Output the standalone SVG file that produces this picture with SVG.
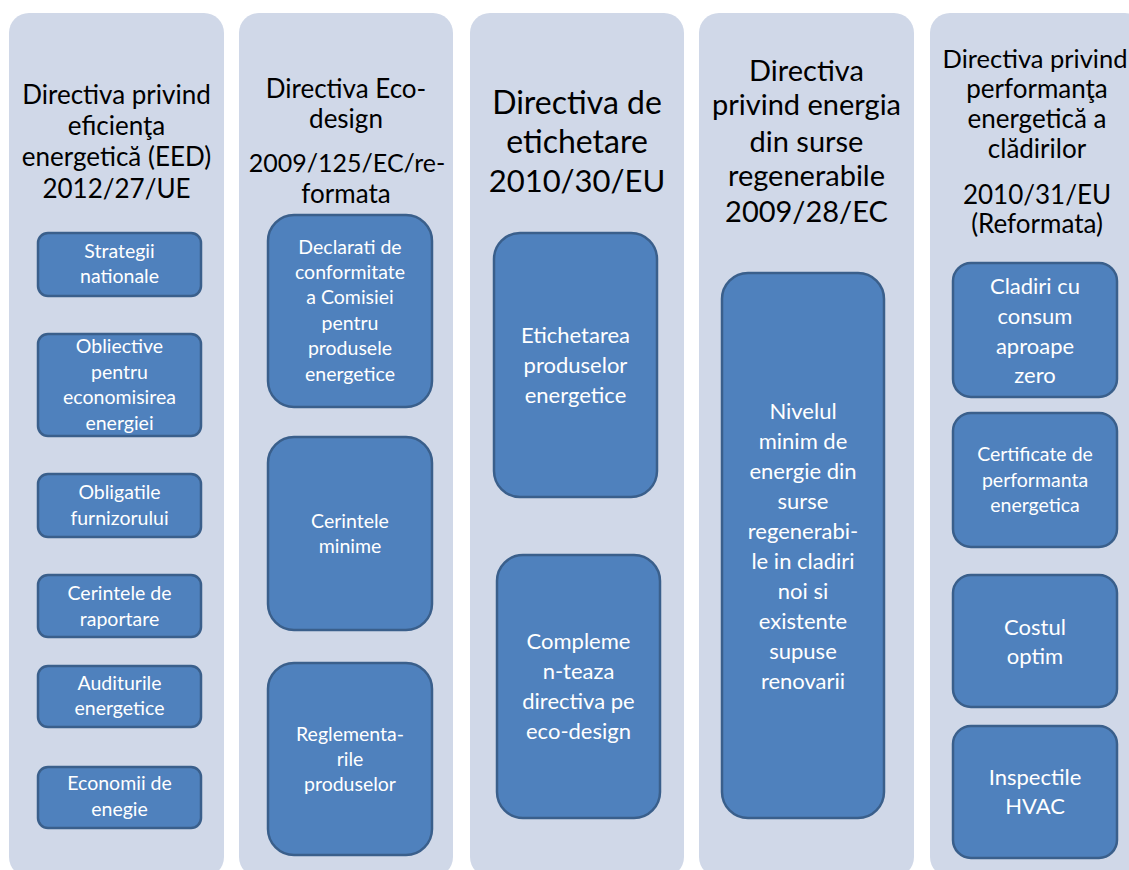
<svg xmlns="http://www.w3.org/2000/svg" width="1129" height="870" viewBox="0 0 1129 870">
<style>
.col{fill:#D0D8E8;}
.box{fill:#4F81BD;stroke:#3A5F8B;stroke-width:2.5;}
.h{font-family:Lato,"Open Sans","Liberation Sans",sans-serif;fill:#000;text-anchor:middle;}
.t{font-family:Lato,"Open Sans","Liberation Sans",sans-serif;fill:#fff;text-anchor:middle;}
.s19{font-size:19.5px;}
.s22{font-size:22px;}
</style>
<rect width="1129" height="870" fill="#fff"/>
<g id="col1">
<rect class="col" x="9" y="13" width="215" height="864" rx="20"/>
<text class="h" font-size="26" x="116.5"><tspan x="116.5" y="104">Directiva privind</tspan><tspan x="116.5" y="135">eficienţa</tspan><tspan x="116.5" y="166">energetică (EED)</tspan><tspan x="116.5" y="198">2012/27/UE</tspan></text>
</g>
<g id="n1a"><rect class="box" x="38" y="233" width="163" height="63" rx="10"/><text class="t s19"><tspan x="119.5" y="258">Strategii</tspan><tspan x="119.5" y="283">nationale</tspan></text></g>
<g id="n1b"><rect class="box" x="38" y="334" width="163" height="102" rx="10"/><text class="t s19"><tspan x="119.5" y="353">Obliective</tspan><tspan x="119.5" y="379">pentru</tspan><tspan x="119.5" y="404">economisirea</tspan><tspan x="119.5" y="430">energiei</tspan></text></g>
<g id="n1c"><rect class="box" x="38" y="474" width="163" height="63" rx="10"/><text class="t s19"><tspan x="119.5" y="499">Obligatile</tspan><tspan x="119.5" y="525">furnizorului</tspan></text></g>
<g id="n1d"><rect class="box" x="38" y="575" width="163" height="62" rx="10"/><text class="t s19"><tspan x="119.5" y="600">Cerintele de</tspan><tspan x="119.5" y="626">raportare</tspan></text></g>
<g id="n1e"><rect class="box" x="38" y="666" width="163" height="61" rx="10"/><text class="t s19"><tspan x="119.5" y="690">Auditurile</tspan><tspan x="119.5" y="715">energetice</tspan></text></g>
<g id="n1f"><rect class="box" x="38" y="767" width="163" height="61" rx="10"/><text class="t s19"><tspan x="119.5" y="790">Economii de</tspan><tspan x="119.5" y="816">enegie</tspan></text></g>

<g id="col2">
<rect class="col" x="239" y="13" width="214" height="864" rx="20"/>
<text class="h" font-size="26"><tspan x="346" y="98">Directiva Eco-</tspan><tspan x="346" y="128">design</tspan><tspan x="347" y="172" font-size="25">2009/125/EC/re-</tspan><tspan x="346" y="203">formata</tspan></text>
</g>
<g id="n2a"><rect class="box" x="268" y="215" width="164" height="192" rx="26"/><text class="t s19"><tspan x="350" y="254">Declarati de</tspan><tspan x="350" y="279">conformitate</tspan><tspan x="350" y="304">a Comisiei</tspan><tspan x="350" y="330">pentru</tspan><tspan x="350" y="355">produsele</tspan><tspan x="350" y="381">energetice</tspan></text></g>
<g id="n2b"><rect class="box" x="268" y="437" width="164" height="193" rx="26"/><text class="t s19"><tspan x="350" y="528">Cerintele</tspan><tspan x="350" y="553">minime</tspan></text></g>
<g id="n2c"><rect class="box" x="268" y="663" width="164" height="192" rx="26"/><text class="t s19"><tspan x="350" y="741">Reglementa-</tspan><tspan x="350" y="766">rile</tspan><tspan x="350" y="791">produselor</tspan></text></g>

<g id="col3">
<rect class="col" x="470" y="13" width="214" height="864" rx="20"/>
<text class="h" font-size="32"><tspan x="577" y="114">Directiva de</tspan><tspan x="577" y="153">etichetare</tspan><tspan x="577" y="192" font-size="31">2010/30/EU</tspan></text>
</g>
<g id="n3a"><rect class="box" x="494" y="233" width="163" height="264" rx="26"/><text class="t s22"><tspan x="575.5" y="343">Etichetarea</tspan><tspan x="575.5" y="373">produselor</tspan><tspan x="575.5" y="403">energetice</tspan></text></g>
<g id="n3b"><rect class="box" x="497" y="555" width="163" height="263" rx="26"/><text class="t s22"><tspan x="578.5" y="649">Compleme</tspan><tspan x="578.5" y="679">n-teaza</tspan><tspan x="578.5" y="709">directiva pe</tspan><tspan x="578.5" y="739">eco-design</tspan></text></g>

<g id="col4">
<rect class="col" x="699" y="13" width="215" height="864" rx="20"/>
<text class="h" font-size="29"><tspan x="806.5" y="81">Directiva</tspan><tspan x="806.5" y="115">privind energia</tspan><tspan x="806.5" y="152">din surse</tspan><tspan x="806.5" y="186">regenerabile</tspan><tspan x="806.5" y="222">2009/28/EC</tspan></text>
</g>
<g id="n4a"><rect class="box" x="722" y="273" width="162" height="545" rx="26"/><text class="t s22"><tspan x="803" y="419">Nivelul</tspan><tspan x="803" y="449">minim de</tspan><tspan x="803" y="479">energie din</tspan><tspan x="803" y="509">surse</tspan><tspan x="803" y="539">regenerabi-</tspan><tspan x="803" y="569">le in cladiri</tspan><tspan x="803" y="599">noi si</tspan><tspan x="803" y="629">existente</tspan><tspan x="803" y="659">supuse</tspan><tspan x="803" y="689">renovarii</tspan></text></g>

<g id="col5">
<rect class="col" x="930" y="13" width="215" height="864" rx="20"/>
<text class="h" font-size="26"><tspan x="1035" y="68" font-size="25.5">Directiva privind</tspan><tspan x="1037" y="98">performanţa</tspan><tspan x="1037" y="128">energetică a</tspan><tspan x="1037" y="158">clădirilor</tspan><tspan x="1037" y="204">2010/31/EU</tspan><tspan x="1037" y="233">(Reformata)</tspan></text>
</g>
<g id="n5a"><rect class="box" x="953" y="263" width="164" height="134" rx="18"/><text class="t s22"><tspan x="1035" y="294">Cladiri cu</tspan><tspan x="1035" y="324">consum</tspan><tspan x="1035" y="354">aproape</tspan><tspan x="1035" y="383">zero</tspan></text></g>
<g id="n5b"><rect class="box" x="953" y="413" width="164" height="134" rx="18"/><text class="t s19"><tspan x="1035" y="461">Certificate de</tspan><tspan x="1035" y="487">performanta</tspan><tspan x="1035" y="512">energetica</tspan></text></g>
<g id="n5c"><rect class="box" x="953" y="575" width="164" height="132" rx="18"/><text class="t s22"><tspan x="1035" y="635">Costul</tspan><tspan x="1035" y="664">optim</tspan></text></g>
<g id="n5d"><rect class="box" x="953" y="726" width="164" height="132" rx="18"/><text class="t s22"><tspan x="1035" y="785">Inspectile</tspan><tspan x="1035" y="814">HVAC</tspan></text></g>
<g id="connectors"></g>
</svg>
